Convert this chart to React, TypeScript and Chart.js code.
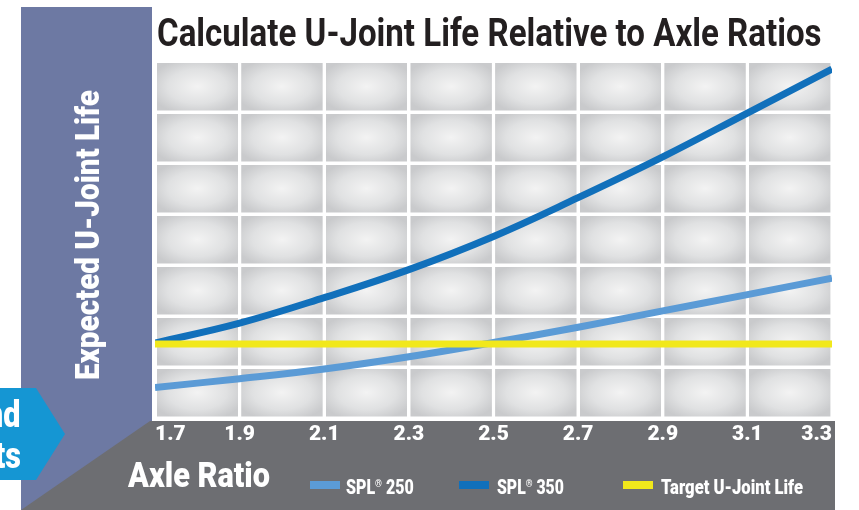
import React, { useEffect, useLayoutEffect, useRef } from "react";
import { Chart, registerables } from "chart.js";

Chart.register(...registerables);

// ---- data ----
const axleRatios = [1.7, 1.9, 2.1, 2.3, 2.5, 2.7, 2.9, 3.1, 3.3];
const spl250Life = [0.6, 0.77, 0.96, 1.2, 1.48, 1.78, 2.1, 2.42, 2.74];
const spl350Life = [1.47, 1.86, 2.36, 2.91, 3.56, 4.32, 5.12, 5.98, 6.84];
const targetLife = [1.45, 1.45, 1.45, 1.45, 1.45, 1.45, 1.45, 1.45, 1.45];
const yGridValues = [0, 1, 2, 3, 4, 5, 6, 7];
const seriesNames = ["SPL® 250", "SPL® 350", "Target U-Joint Life"];
const seriesColors = ["#5b9bd6", "#1170bb", "#f1e81b"];
const titleText = "Calculate U-Joint Life Relative to Axle Ratios";
const yAxisTitle = "Expected U-Joint Life";
const xAxisTitle = "Axle Ratio";
const sideTabLines = ["nd", "ts"];

const SLATE = "#6d79a3";
const GREY = "#6d6e72";
const TAB_BLUE = "#1596d3";
const TITLE_FONT = "Roboto, 'Liberation Sans', sans-serif";
const BOLD_FONT = "Roboto, 'Liberation Sans', Arial, sans-serif";

function FitText(props: {
  left: number;
  top: number;
  width: number;
  size: number;
  weight?: number | string;
  family?: string;
  color: string;
  children: React.ReactNode;
}) {
  const ref = useRef<HTMLSpanElement>(null);
  useLayoutEffect(() => {
    const fit = () => {
      const el = ref.current;
      if (!el) return;
      const w = el.offsetWidth;
      if (w > 0) el.style.transform = `scaleX(${props.width / w})`;
    };
    fit();
    if ((document as any).fonts?.ready) (document as any).fonts.ready.then(fit);
  }, []);
  return (
    <span
      ref={ref}
      style={{
        position: "absolute",
        left: props.left,
        top: props.top,
        fontFamily: props.family ?? BOLD_FONT,
        fontSize: props.size,
        fontWeight: props.weight ?? 900,
        color: props.color,
        lineHeight: 1,
        whiteSpace: "nowrap",
        transformOrigin: "0 0",
      }}
    >
      {props.children}
    </span>
  );
}

function renderName(name: string) {
  const i = name.indexOf("®");
  if (i < 0) return name;
  return (
    <>
      {name.slice(0, i)}
      <span style={{ fontSize: "0.55em", verticalAlign: "0.6em" }}>®</span>
      {name.slice(i + 1)}
    </>
  );
}

const backgroundPlugin = {
  id: "backgroundShapes",
  beforeDraw(chart: any) {
    const { ctx, chartArea: a, scales } = chart;
    ctx.save();
    ctx.fillStyle = "#ffffff";
    ctx.fillRect(0, 0, chart.width, chart.height);

    const slateRight = a.left - 3;
    const greyTop = a.bottom + 3;
    // slate band
    ctx.fillStyle = SLATE;
    ctx.fillRect(21, 7, slateRight - 21, chart.height - 7);
    // tab arrow
    ctx.fillStyle = TAB_BLUE;
    ctx.beginPath();
    ctx.moveTo(0, 388);
    ctx.lineTo(36, 388);
    ctx.lineTo(65, 434);
    ctx.lineTo(36, 480);
    ctx.lineTo(0, 480);
    ctx.closePath();
    ctx.fill();
    // grey band
    ctx.fillStyle = GREY;
    ctx.beginPath();
    ctx.moveTo(slateRight - 2, greyTop);
    ctx.lineTo(a.right + 3, greyTop);
    ctx.lineTo(a.right + 3, chart.height);
    ctx.lineTo(21, chart.height);
    ctx.closePath();
    ctx.fill();

    // white plot background
    ctx.fillStyle = "#ffffff";
    ctx.fillRect(a.left, a.top, a.right - a.left, a.bottom - a.top);

    // gradient cells
    const xs = axleRatios.map((v) => scales.x.getPixelForValue(v));
    const ys = yGridValues.map((v) => scales.y.getPixelForValue(v));
    const inset = 1.6;
    for (let i = 0; i < xs.length - 1; i++) {
      for (let j = 0; j < ys.length - 1; j++) {
        const x0 = Math.min(xs[i], xs[i + 1]) + inset;
        const x1 = Math.max(xs[i], xs[i + 1]) - inset;
        const y0 = Math.min(ys[j], ys[j + 1]) + inset;
        const y1 = Math.max(ys[j], ys[j + 1]) - inset;
        const w = x1 - x0;
        const h = y1 - y0;
        const cx = (x0 + x1) / 2;
        const cy = (y0 + y1) / 2;
        ctx.save();
        ctx.beginPath();
        ctx.rect(x0, y0, w, h);
        ctx.clip();
        ctx.translate(cx, cy);
        ctx.scale(1, h / w);
        const r = (w / 2) * 1.2;
        const g = ctx.createRadialGradient(0, 0, 0, 0, 0, r);
        g.addColorStop(0, "#f3f3f3");
        g.addColorStop(0.6, "#e0e1e2");
        g.addColorStop(1, "#c9cacc");
        ctx.fillStyle = g;
        ctx.fillRect(-w / 2 - 2, -w / 2 - 2, w + 4, w + 4);
        ctx.restore();
      }
    }
    ctx.restore();
  },
};

export default function App() {
  const canvasRef = useRef<HTMLCanvasElement>(null);

  useEffect(() => {
    if (!canvasRef.current) return;
    const mk = (arr: number[]) => arr.map((y, i) => ({ x: axleRatios[i], y }));
    const chart = new Chart(canvasRef.current, {
      type: "line",
      data: {
        datasets: [
          {
            label: seriesNames[0],
            data: mk(spl250Life),
            borderColor: seriesColors[0],
            borderWidth: 7,
            pointRadius: 0,
            tension: 0.4,
            order: 2,
          },
          {
            label: seriesNames[1],
            data: mk(spl350Life),
            borderColor: seriesColors[1],
            borderWidth: 7,
            pointRadius: 0,
            tension: 0.4,
            order: 1,
          },
          {
            label: seriesNames[2],
            data: mk(targetLife),
            borderColor: seriesColors[2],
            borderWidth: 7,
            pointRadius: 0,
            order: 0,
          },
        ],
      },
      options: {
        animation: false,
        responsive: false,
        devicePixelRatio: 1,
        layout: { padding: { left: 155, right: 27, top: 61, bottom: 0 } },
        plugins: {
          legend: { display: false },
          tooltip: { enabled: false },
          title: { display: false },
        },
        scales: {
          x: {
            type: "linear",
            min: axleRatios[0],
            max: axleRatios[axleRatios.length - 1],
            afterBuildTicks: (s: any) => {
              s.ticks = axleRatios.map((v) => ({ value: v }));
            },
            afterFit: (s: any) => {
              s.height = 92;
            },
            grid: { color: "#ffffff", lineWidth: 3, drawTicks: false },
            border: { display: true, color: "#ffffff", width: 3 },
            ticks: {
              align: "inner",
              padding: 4,
              color: "#ffffff",
              font: { family: BOLD_FONT, size: 21, weight: 900 },
              maxRotation: 0,
              autoSkip: false,
              callback: (v: any) => Number(v).toFixed(1),
            },
          },
          y: {
            type: "linear",
            min: yGridValues[0],
            max: yGridValues[yGridValues.length - 1],
            afterBuildTicks: (s: any) => {
              s.ticks = yGridValues.map((v) => ({ value: v }));
            },
            afterFit: (s: any) => {
              s.width = 0;
            },
            grid: { color: "#ffffff", lineWidth: 3, drawTicks: false },
            border: { display: true, color: "#ffffff", width: 3 },
            ticks: { display: false },
          },
        },
      } as any,
      plugins: [backgroundPlugin],
    });
    return () => chart.destroy();
  }, []);

  const legendItems = [
    { sw: 310, tx: 346, tw: 68 },
    { sw: 459, tx: 497, tw: 67 },
    { sw: 623, tx: 661, tw: 142 },
  ];

  return (
    <div style={{ position: "absolute", left: 0, top: 0, width: 859, height: 510, overflow: "hidden" }}>
      <canvas ref={canvasRef} width={859} height={510} style={{ position: "absolute", left: 0, top: 0 }} />
      <FitText left={157} top={13.5} width={665} size={38} weight={700} family={TITLE_FONT} color="#231f20">
        {titleText}
      </FitText>
      <div
        style={{
          position: "absolute",
          left: 69.6,
          top: 380,
          width: 0,
          height: 0,
          transform: "rotate(-90deg)",
          transformOrigin: "0 0",
        }}
      >
        <FitText left={0} top={0} width={290} size={34} color="#ffffff">
          {yAxisTitle}
        </FitText>
      </div>
      <FitText left={128} top={457.5} width={142} size={35} color="#ffffff">
        {xAxisTitle}
      </FitText>
      {sideTabLines.map((t, i) => (
        <span
          key={t}
          style={{
            position: "absolute",
            right: 859 - 21,
            top: i === 0 ? 396.5 : 437.5,
            fontFamily: BOLD_FONT,
            fontWeight: 900,
            fontSize: 36,
            lineHeight: 1,
            color: "#ffffff",
            whiteSpace: "nowrap",
            transform: "scaleX(0.85)",
            transformOrigin: "100% 0",
          }}
        >
          {t}
        </span>
      ))}
      {legendItems.map((it, i) => (
        <React.Fragment key={i}>
          <div
            style={{
              position: "absolute",
              left: it.sw,
              top: 481,
              width: 30,
              height: 8,
              background: seriesColors[i],
            }}
          />
          <FitText left={it.tx} top={477} width={it.tw} size={20} color="#ffffff">
            {renderName(seriesNames[i])}
          </FitText>
        </React.Fragment>
      ))}
    </div>
  );
}
